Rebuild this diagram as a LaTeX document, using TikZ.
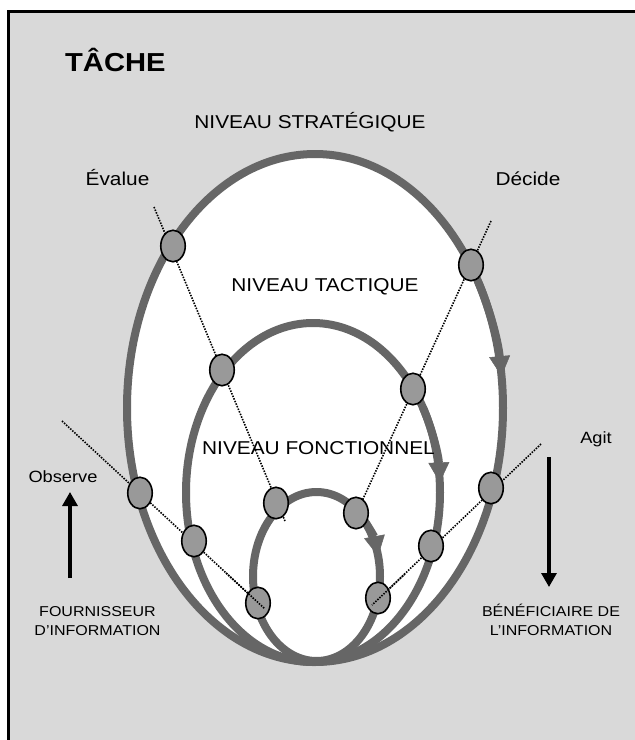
\documentclass[tikz,border=0pt]{standalone}
\usepackage{fontspec}
\setmainfont{Liberation Sans}[FakeStretch=1.12]
\usetikzlibrary{arrows.meta,shapes.geometric}
\definecolor{bggray}{HTML}{D9D9D9}
\definecolor{loopgray}{HTML}{666666}
\definecolor{markgray}{HTML}{999999}
\begin{document}
\begin{tikzpicture}[x=1pt,y=-1pt,
  loopline/.style={draw=loopgray,line width=8pt},
  looparrow/.style={draw=loopgray,line width=8pt,-{Triangle[width=21pt,length=20pt,line width=0.5pt]}},
  marker/.style={shape=ellipse,draw=black,fill=markgray,line width=1.6pt,minimum width=24.5pt,minimum height=31.5pt,inner sep=0pt},
  dotline/.style={draw=black,line width=1.6pt,dash pattern=on 1.5pt off 1.3pt},
  lbl/.style={font=\fontsize{18.6}{22}\selectfont,inner sep=0pt},
  sml/.style={font=\fontsize{16.3}{20}\selectfont,inner sep=0pt},
  note/.style={font=\fontsize{14.3}{18}\selectfont,inner sep=0pt},
  bigarrow/.style={line width=3.2pt,-{Triangle[width=15pt,length=14pt]}}]
\useasboundingbox (0,0) rectangle (635,740);
\clip (0,0) rectangle (635,740);
% frame
\fill[bggray] (8,11) rectangle (660,760);
\draw[line width=3pt] (8,760) -- (8,11) -- (660,11);
% loops
\fill[white] (315,408) ellipse [x radius=188, y radius=254];
\draw[loopline] (315,408) ellipse [x radius=188, y radius=254];
\draw[loopline] (313,492.5) ellipse [x radius=127, y radius=169.5];
\draw[loopline] (316.5,576.5) ellipse [x radius=63.5, y radius=84.5];
\draw[looparrow] (315,408) ++(-30:188 and 254) arc[start angle=-30, end angle=-7.2, x radius=188, y radius=254];
\draw[looparrow] (313,492.5) ++(-30:127 and 169.5) arc[start angle=-30, end angle=-3.4, x radius=127, y radius=169.5];
\draw[looparrow] (316.5,576.5) ++(-50:63.5 and 84.5) arc[start angle=-50, end angle=-14, x radius=63.5, y radius=84.5];
% dotted lines
\coordinate (evaS) at (154,207); \coordinate (evaE) at (285,521);
\coordinate (decS) at (491,221); \coordinate (decE) at (357,512);
\coordinate (obsS) at (62,421);  \coordinate (obsE) at (265,609);
\coordinate (obsT) at (226,573);
\coordinate (agiS) at (541,444); \coordinate (agiE) at (372,605);
\coordinate (agiT) at (405,574);
\draw[dotline] (evaS) -- (evaE);
\draw[dotline] (decS) -- (decE);
\draw[dotline] (obsS) -- (obsE);
\draw[dotline] (agiS) -- (agiE);
% markers
\node[marker] (mO1) at (173,246) {};
\node[marker] (mM1) at (222,370) {};
\node[marker] (mI1) at (276,503) {};
\node[marker] (mO2) at (140,493) {};
\node[marker] (mM2) at (194,541) {};
\node[marker] (mI2) at (258,603) {};
\node[marker] (mO3) at (471,265) {};
\node[marker] (mM3) at (413,389) {};
\node[marker] (mI3) at (356,513) {};
\node[marker] (mO4) at (491,488) {};
\node[marker] (mM4) at (431,546) {};
\node[marker] (mI4) at (378,598) {};
\draw[dotline] (obsT) -- (obsE);
\draw[dotline] (agiT) -- (agiE);
% texts
\node[anchor=base west,inner sep=0pt,font=\bfseries\fontsize{26}{30}\selectfont] (tache) at (65,71) {TÂCHE};
\node[lbl,anchor=base] (strat) at (310,128) {NIVEAU STRATÉGIQUE};
\node[lbl,anchor=base] (tact) at (325,291) {NIVEAU TACTIQUE};
\node[lbl,anchor=base] (fonc) at (318.5,454) {NIVEAU FONCTIONNEL};
\node[lbl,anchor=base] (eval) at (117.5,185) {Évalue};
\node[lbl,anchor=base] (dec) at (528,185) {Décide};
\node[sml,anchor=base] (obs) at (63,482) {Observe};
\node[sml,anchor=base] (agit) at (596,443) {Agit};
\node[note,anchor=base] (four1) at (97.5,616) {FOURNISSEUR};
\node[note,anchor=base] (four2) at (97.5,635) {D’INFORMATION};
\node[note,anchor=base] (ben1) at (551,616) {BÉNÉFICIAIRE DE};
\node[note,anchor=base] (ben2) at (551,635) {L’INFORMATION};
% side arrows
\coordinate (upS) at (70,578); \coordinate (upE) at (70,492);
\coordinate (dnS) at (549,457); \coordinate (dnE) at (549,587);
\draw[bigarrow] (upS) -- (upE);
\draw[bigarrow] (dnS) -- (dnE);
\end{tikzpicture}
\end{document}
